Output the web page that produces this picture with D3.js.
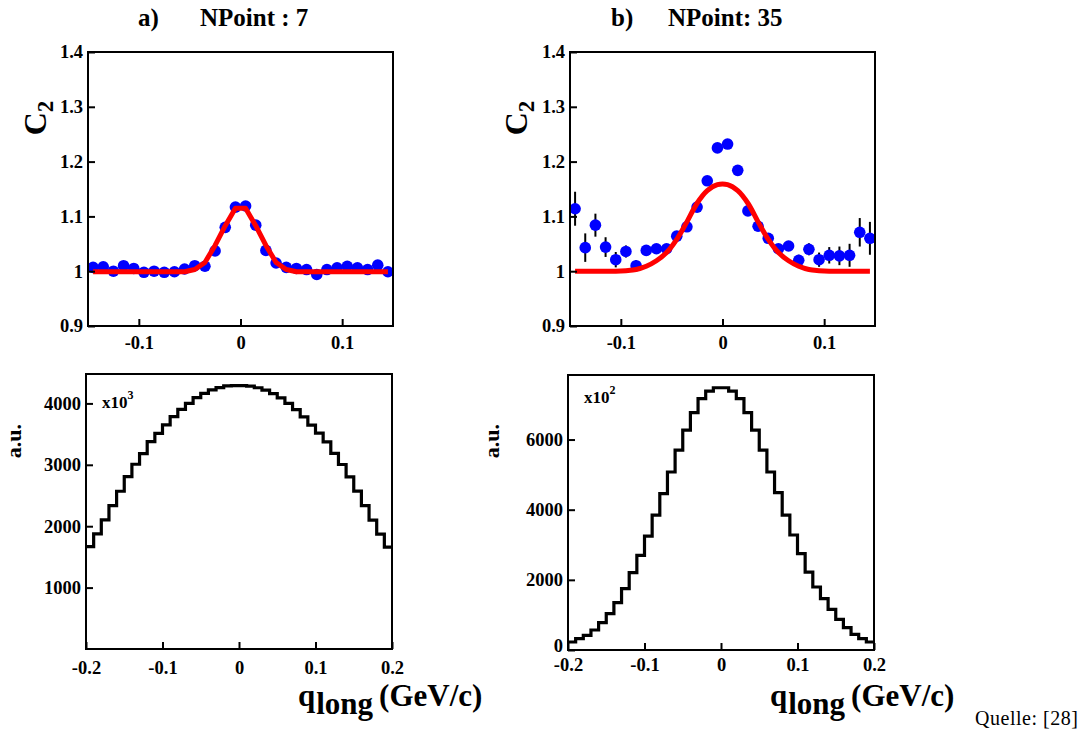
<!DOCTYPE html>
<html>
<head>
<meta charset="utf-8">
<script src="https://cdn.jsdelivr.net/npm/d3@7"></script>
<style>
  html, body { margin: 0; padding: 0; background: #fff; }
  svg { display: block; }
  text { font-family: "Liberation Serif", "Times New Roman", serif; }
</style>
</head>
<body>
<svg id="chart" width="1088" height="733"></svg>
<script>
// ---------------- data ----------------
const qBins = [-0.145,-0.135,-0.125,-0.115,-0.105,-0.095,-0.085,-0.075,-0.065,-0.055,
               -0.045,-0.035,-0.025,-0.015,-0.005, 0.005, 0.015, 0.025, 0.035, 0.045,
                0.055, 0.065, 0.075, 0.085, 0.095, 0.105, 0.115, 0.125, 0.135, 0.145];

// panel a) NPoint : 7
const c2A = [1.007,1.008,1.000,1.010,1.005,0.998,1.000,0.998,0.999,1.004,
             1.010,1.009,1.037,1.080,1.117,1.119,1.084,1.038,1.015,1.007,
             1.005,1.003,0.994,1.003,1.006,1.009,1.006,1.003,1.011,0.999];
const fitA = [0.999,0.999,0.999,0.999,0.999,0.999,0.999,0.999,0.999,0.999,
              1.003,1.016,1.047,1.083,1.115,1.115,1.083,1.047,1.016,1.003,
              0.999,0.999,0.999,0.999,0.999,0.999,0.999,0.999,0.999,0.999];

// panel b) NPoint: 35
const c2B = [1.114,1.043,1.084,1.044,1.021,1.036,1.010,1.038,1.041,1.041,
             1.064,1.081,1.117,1.165,1.225,1.232,1.184,1.110,1.082,1.060,
             1.041,1.046,1.020,1.040,1.021,1.029,1.028,1.029,1.071,1.060];
const errB = [0.031,0.026,0.021,0.018,0.014,0.011,0.010,0.009,0.008,0.008,
              0.008,0.008,0.008,0.008,0.008,0.008,0.008,0.008,0.008,0.008,
              0.008,0.009,0.010,0.011,0.013,0.015,0.017,0.021,0.026,0.030];
const fitB = [1.000,1.000,1.000,1.000,1.000,1.001,1.003,1.009,1.019,1.034,
              1.058,1.090,1.124,1.147,1.158,1.158,1.147,1.124,1.090,1.058,
              1.034,1.019,1.009,1.003,1.001,1.000,1.000,1.000,1.000,1.000];

// histogram bin edges (qlong, GeV/c)
const hEdges = [-0.20,-0.19,-0.18,-0.17,-0.16,-0.15,-0.14,-0.13,-0.12,-0.11,
                -0.10,-0.09,-0.08,-0.07,-0.06,-0.05,-0.04,-0.03,-0.02,-0.01,
                 0.00, 0.01, 0.02, 0.03, 0.04, 0.05, 0.06, 0.07, 0.08, 0.09,
                 0.10, 0.11, 0.12, 0.13, 0.14, 0.15, 0.16, 0.17, 0.18, 0.19, 0.20];
const histA = [1668,1875,2103,2336,2569,2808,3009,3183,3378,3513,
               3649,3785,3904,4002,4094,4164,4219,4257,4284,4289,
               4289,4280,4255,4215,4160,4090,4000,3900,3780,3645,
               3515,3375,3185,3005,2805,2570,2335,2100,1872,1660];
const histB = [228,323,418,570,779,1036,1349,1748,2204,2698,
               3249,3848,4456,5074,5701,6271,6765,7164,7382,7477,
               7477,7382,7164,6765,6271,5701,5074,4485,3848,3278,
               2746,2223,1796,1463,1159,874,637,447,323,228];

const c2Ticks = [0.9,1.0,1.1,1.2,1.3,1.4];
const c2TickLabels = ["0.9","1","1.1","1.2","1.3","1.4"];
const qTopTicks = [-0.1,0,0.1];
const qTopTickLabels = ["-0.1","0","0.1"];
const qBotTicks = [-0.2,-0.1,0,0.1,0.2];
const qBotTickLabels = ["-0.2","-0.1","0","0.1","0.2"];
const histATicks = [1000,2000,3000,4000];
const histBTicks = [0,2000,4000,6000];

// ---------------- drawing ----------------
const svg = d3.select("#chart");
const FONT = 18.5;

function frameAxes(g, x, y, opt) {
  const [x0, x1] = x.range();
  const [y0, y1] = y.range(); // y0 bottom, y1 top
  const ax = g.append("g").attr("transform", `translate(0,${y0})`)
    .call(d3.axisBottom(x).tickValues(opt.xTicks)
      .tickFormat((d, i) => opt.xLabels[i]).tickSizeInner(-7).tickSizeOuter(0)
      .tickPadding(opt.xPad));
  const ay = g.append("g").attr("transform", `translate(${x0},0)`)
    .call(d3.axisLeft(y).tickValues(opt.yTicks)
      .tickFormat((d, i) => opt.yLabels[i]).tickSizeInner(-7).tickSizeOuter(0)
      .tickPadding(5));
  [ax, ay].forEach(a => {
    a.select(".domain").remove();
    a.selectAll("line").attr("stroke", "#000").attr("stroke-width", 2);
    a.selectAll("text").attr("fill", "#000").attr("font-size", FONT)
      .attr("font-weight", "bold").attr("font-family", "Liberation Serif, serif");
  });
  // the "0" label of a y axis sits on the frame corner: nudge it up a little
  ay.selectAll(".tick").filter(d => d === 0).select("text").attr("dy", "0.1em");
  g.append("rect").attr("x", x0).attr("y", y1).attr("width", x1 - x0).attr("height", y0 - y1)
    .attr("fill", "none").attr("stroke", "#000").attr("stroke-width", 2);
}

function c2Panel(opts) {
  const g = svg.append("g");
  const x = d3.scaleLinear().domain([-0.15, 0.15]).range([opts.x0, opts.x1]);
  const y = d3.scaleLinear().domain([0.9, 1.4]).range([326, 52]);
  const clipId = "clip" + opts.id;
  svg.append("clipPath").attr("id", clipId).append("rect")
    .attr("x", opts.x0).attr("y", 52).attr("width", opts.x1 - opts.x0 + 8).attr("height", 274);
  const plot = g.append("g").attr("clip-path", `url(#${clipId})`);
  if (opts.err) {
    plot.selectAll("line.err").data(qBins).join("line").attr("class", "err")
      .attr("x1", d => x(d)).attr("x2", d => x(d))
      .attr("y1", (d, i) => y(opts.vals[i] - opts.err[i]))
      .attr("y2", (d, i) => y(opts.vals[i] + opts.err[i]))
      .attr("stroke", "#000").attr("stroke-width", 2);
  }
  plot.selectAll("circle").data(qBins).join("circle")
    .attr("cx", d => x(d)).attr("cy", (d, i) => y(opts.vals[i]))
    .attr("r", 5.8).attr("fill", "#0000ff");
  const line = d3.line().x(d => x(d[0])).y(d => y(d[1])).curve(opts.curve);
  plot.append("path").datum(qBins.map((q, i) => [q, opts.fit[i]]))
    .attr("d", line).attr("fill", "none").attr("stroke", "#ff0000")
    .attr("stroke-width", 5).attr("stroke-linejoin", "round");
  frameAxes(g, x, y, {xTicks: qTopTicks, xLabels: qTopTickLabels, xPad: 10,
                      yTicks: c2Ticks, yLabels: c2TickLabels});
  // y title C2
  const t = g.append("text").attr("transform", `translate(${opts.titleX},118) rotate(-90)`)
    .attr("text-anchor", "middle").attr("font-weight", "bold").attr("font-size", 32);
  t.append("tspan").text("C");
  t.append("tspan").attr("font-size", 23).attr("dy", 7).text("2");
}

function histPanel(opts) {
  const g = svg.append("g");
  const x = d3.scaleLinear().domain([-0.2, 0.2]).range([opts.x0, opts.x1]);
  const y = d3.scaleLinear().domain([0, opts.ymax]).range([opts.yb, opts.yt]);
  const pts = [];
  opts.vals.forEach((v, i) => { pts.push([hEdges[i], v]); pts.push([hEdges[i + 1], v]); });
  g.append("path").datum(pts)
    .attr("d", d3.line().x(d => x(d[0])).y(d => y(d[1])))
    .attr("fill", "none").attr("stroke", "#000").attr("stroke-width", 3.2)
    .attr("stroke-linejoin", "miter");
  frameAxes(g, x, y, {xTicks: qBotTicks, xLabels: qBotTickLabels, xPad: opts.xPad,
                      yTicks: opts.yTicks, yLabels: opts.yTicks.map(String)});
  g.append("text").attr("transform", `translate(${opts.auX},441) rotate(-90)`)
    .attr("text-anchor", "middle").attr("font-weight", "bold").attr("font-size", 22)
    .text("a.u.");
  const s = g.append("text").attr("x", opts.x0 + 16).attr("y", opts.scaleY)
    .attr("font-weight", "bold").attr("font-size", 17);
  s.append("tspan").text("x10");
  s.append("tspan").attr("font-size", 12).attr("dy", -9).text(opts.exp);
}

function xTitle(xStart) {
  const t = svg.append("text").attr("x", xStart).attr("y", 706)
    .attr("font-weight", "bold").attr("font-size", 31);
  t.append("tspan").text("q");
  t.append("tspan").attr("dy", 8).attr("dx", 1).text("long");
  t.append("tspan").attr("dy", -8).attr("dx", 6).text("(GeV/c)");
}

// titles
function title(xa, xb, label) {
  svg.append("text").attr("x", xa).attr("y", 26).attr("font-weight", "bold")
    .attr("font-size", 25).text(label[0]);
  svg.append("text").attr("x", xb).attr("y", 26).attr("font-weight", "bold")
    .attr("font-size", 25).text(label[1]);
}
title(138, 200, ["a)", "NPoint : 7"]);
title(611, 668, ["b)", "NPoint: 35"]);

c2Panel({id: "a", x0: 88, x1: 393, vals: c2A, fit: fitA, err: null,
         curve: d3.curveLinear, titleX: 46});
c2Panel({id: "b", x0: 570, x1: 875, vals: c2B, fit: fitB, err: errB,
         curve: d3.curveCatmullRom, titleX: 527});

histPanel({x0: 86, x1: 392, yb: 649, yt: 374, ymax: 4479, vals: histA,
           yTicks: histATicks, xPad: 12, auX: 21, scaleY: 408, exp: "3"});
histPanel({x0: 568, x1: 874, yb: 650, yt: 375, ymax: 7840, vals: histB,
           yTicks: histBTicks, xPad: 8, auX: 499, scaleY: 403, exp: "2"});

xTitle(298);
xTitle(770);

svg.append("text").attr("x", 975).attr("y", 725).attr("font-size", 20)
  .attr("textLength", 103).text("Quelle: [28]");
</script>
</body>
</html>
